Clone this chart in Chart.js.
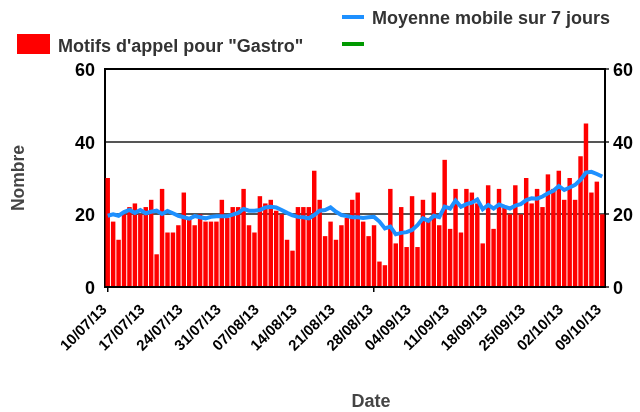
<!DOCTYPE html>
<html><head><meta charset="utf-8">
<script src="https://cdn.jsdelivr.net/npm/chart.js@4/dist/chart.umd.min.js"></script>
<style>
html,body{margin:0;padding:0;background:#fff;}
#wrap{position:relative;width:640px;height:412px;overflow:hidden;}
#c{position:absolute;left:0;top:0;}
.lg{position:absolute;white-space:nowrap;font-family:"Liberation Sans",Arial,sans-serif;font-weight:bold;font-size:18px;line-height:20px;color:#333;}
.sw{position:absolute;}
</style></head><body>
<div id="wrap"><canvas id="c" width="640" height="412"></canvas><div id="legend"></div></div>
<script>
// ---- data ----
const dates = [
"10/07/13","11/07/13","12/07/13","13/07/13","14/07/13","15/07/13","16/07/13","17/07/13","18/07/13","19/07/13","20/07/13","21/07/13","22/07/13","23/07/13","24/07/13","25/07/13","26/07/13","27/07/13","28/07/13","29/07/13","30/07/13","31/07/13",
"01/08/13","02/08/13","03/08/13","04/08/13","05/08/13","06/08/13","07/08/13","08/08/13","09/08/13","10/08/13","11/08/13","12/08/13","13/08/13","14/08/13","15/08/13","16/08/13","17/08/13","18/08/13","19/08/13","20/08/13","21/08/13","22/08/13","23/08/13","24/08/13","25/08/13","26/08/13","27/08/13","28/08/13","29/08/13","30/08/13","31/08/13",
"01/09/13","02/09/13","03/09/13","04/09/13","05/09/13","06/09/13","07/09/13","08/09/13","09/09/13","10/09/13","11/09/13","12/09/13","13/09/13","14/09/13","15/09/13","16/09/13","17/09/13","18/09/13","19/09/13","20/09/13","21/09/13","22/09/13","23/09/13","24/09/13","25/09/13","26/09/13","27/09/13","28/09/13","29/09/13","30/09/13",
"01/10/13","02/10/13","03/10/13","04/10/13","05/10/13","06/10/13","07/10/13","08/10/13","09/10/13"];
const gastroCalls = [30,18,13,20,22,23,20,22,24,9, 27,15,15,17,26,19,17,20,18,18, 18,24,19,22,22,27,17,15,25,23, 24,21,20,13,10,22,22,22,32,24, 14,18,13,17,19,24,26,18,14,17, 7,6,27,12,22,11,25,11,24,19, 26,17,35,16,27,15,27,26,23,12, 28,16,27,22,20,28,20,30,23,27, 22,31,27,32,24,30,24,36,45,26, 29,20];
const movingAvg7 = [19.6,20.0,19.6,20.6,21.2,20.4,21.2,20.3,20.7,21.0, 20.1,20.9,20.3,19.6,19.2,18.8,19.5,19.2,18.9,19.3, 19.5,19.5,19.5,19.9,20.4,21.5,21.0,21.0,21.2,21.9, 22.1,21.9,21.2,20.4,19.7,19.3,19.2,18.9,19.8,21.0, 21.2,21.9,20.7,19.8,19.5,19.2,19.2,19.0,19.2,19.3, 18.0,16.1,16.6,14.5,14.9,15.1,15.7,17.0,18.9,18.2, 19.6,19.2,22.1,21.6,23.8,22.1,22.8,23.2,24.1,21.4, 22.6,21.6,22.7,22.1,21.6,22.4,22.8,23.9,24.4,24.3, 24.9,25.8,26.5,27.8,26.7,27.4,28.1,29.5,31.5,31.7, 31.1,30.4];
const seriesLabels = ["Motifs d'appel pour \"Gastro\"", "Moyenne mobile sur 7 jours", ""];
const yTicks = [0, 20, 40, 60];
const tickEvery = 7;
const yTitle = "Nombre";
const xTitle = "Date";

// ---- styling ----
const FAM = '"Liberation Sans", Arial, sans-serif';
const colors = ["#ff0000", "#1e90ff", "#009900"];

const xTitlePlugin = {
  id: 'xTitle',
  afterDraw(chart) {
    const c = chart.ctx;
    c.save();
    c.font = 'bold 18px ' + FAM;
    c.fillStyle = '#444';
    c.textAlign = 'center';
    c.textBaseline = 'middle';
    c.fillText(xTitle, 371, 402);
    c.restore();
  }
};

const chart = new Chart(document.getElementById('c'), {
  data: {
    labels: dates,
    datasets: [
      { type: 'bar', label: seriesLabels[0], data: gastroCalls, backgroundColor: colors[0], borderWidth: 0,
        barPercentage: 0.82, categoryPercentage: 1.0, order: 2, yAxisID: 'y' },
      { type: 'line', label: seriesLabels[1], data: movingAvg7, borderColor: colors[1], backgroundColor: colors[1],
        borderWidth: 4, pointRadius: 0, tension: 0, order: 1, yAxisID: 'y' },
      { type: 'line', label: seriesLabels[2], data: [], borderColor: colors[2], backgroundColor: colors[2],
        borderWidth: 4, pointRadius: 0, order: 0, yAxisID: 'y' }
    ]
  },
  options: {
    responsive: false,
    animation: false,
    layout: { padding: { top: 69, left: 0, right: 0, bottom: 0 } },
    plugins: { legend: { display: false }, tooltip: { enabled: false }, title: { display: false } },
    scales: {
      x: {
        type: 'category',
        offset: true,
        grid: { offset: false, drawOnChartArea: false, drawTicks: true, tickLength: 5, lineWidth: 1.5,
                color: (ctx) => (ctx.index % tickEvery === 0 ? '#000' : 'rgba(0,0,0,0)') },
        border: { display: true, color: '#000', width: 2 },
        ticks: { autoSkip: false, maxRotation: 45, minRotation: 45, padding: 9, labelOffset: -3, color: '#000',
                 font: { family: FAM, size: 15, weight: 'bold' },
                 callback: function (v, i) { return i % tickEvery === 0 ? this.getLabelForValue(v) : null; } },
        afterFit: (s) => { s.height = 125; }
      },
      y: {
        position: 'left', min: yTicks[0], max: yTicks[yTicks.length - 1],
        afterBuildTicks: (s) => { s.ticks = yTicks.map(v => ({ value: v })); },
        grid: { drawTicks: false, lineWidth: 2,
                color: (ctx) => (ctx.tick && ctx.tick.value === 60 ? '#000' : '#555') },
        border: { display: true, color: '#000', width: 2 },
        ticks: { padding: 10, labelOffset: 2, color: '#000', font: { family: FAM, size: 18, weight: 'bold' } },
        title: { display: true, text: yTitle, color: '#444', font: { family: FAM, size: 17.5, weight: 'bold' }, padding: { top: 9, bottom: 0 } },
        afterFit: (s) => { s.width = 105; }
      },
      y2: {
        position: 'right', min: yTicks[0], max: yTicks[yTicks.length - 1],
        afterBuildTicks: (s) => { s.ticks = yTicks.map(v => ({ value: v })); },
        grid: { drawOnChartArea: false, drawTicks: true, tickLength: 4, lineWidth: 2, color: '#555' },
        border: { display: true, color: '#000', width: 2 },
        ticks: { padding: 4, labelOffset: 2, color: '#000', font: { family: FAM, size: 18, weight: 'bold' } },
        afterFit: (s) => { s.width = 35; }
      }
    }
  },
  plugins: [xTitlePlugin]
});

// ---- HTML legend built from the datasets ----
const legendPos = [
  { sx: 17, sy: 34, sw: 33, sh: 20, tx: 58, ty: 36 },
  { sx: 342, sy: 15, sw: 22, sh: 4, tx: 372, ty: 8 },
  { sx: 342, sy: 42, sw: 22, sh: 4, tx: 372, ty: 35 }
];
const leg = document.getElementById('legend');
chart.data.datasets.forEach((ds, i) => {
  const p = legendPos[i];
  const sw = document.createElement('div');
  sw.className = 'sw';
  sw.style.cssText = `left:${p.sx}px;top:${p.sy}px;width:${p.sw}px;height:${p.sh}px;background:${ds.type === 'bar' ? ds.backgroundColor : ds.borderColor};`;
  leg.appendChild(sw);
  if (ds.label) {
    const t = document.createElement('div');
    t.className = 'lg';
    t.style.left = p.tx + 'px';
    t.style.top = p.ty + 'px';
    t.textContent = ds.label;
    leg.appendChild(t);
  }
});
</script>
</body></html>
